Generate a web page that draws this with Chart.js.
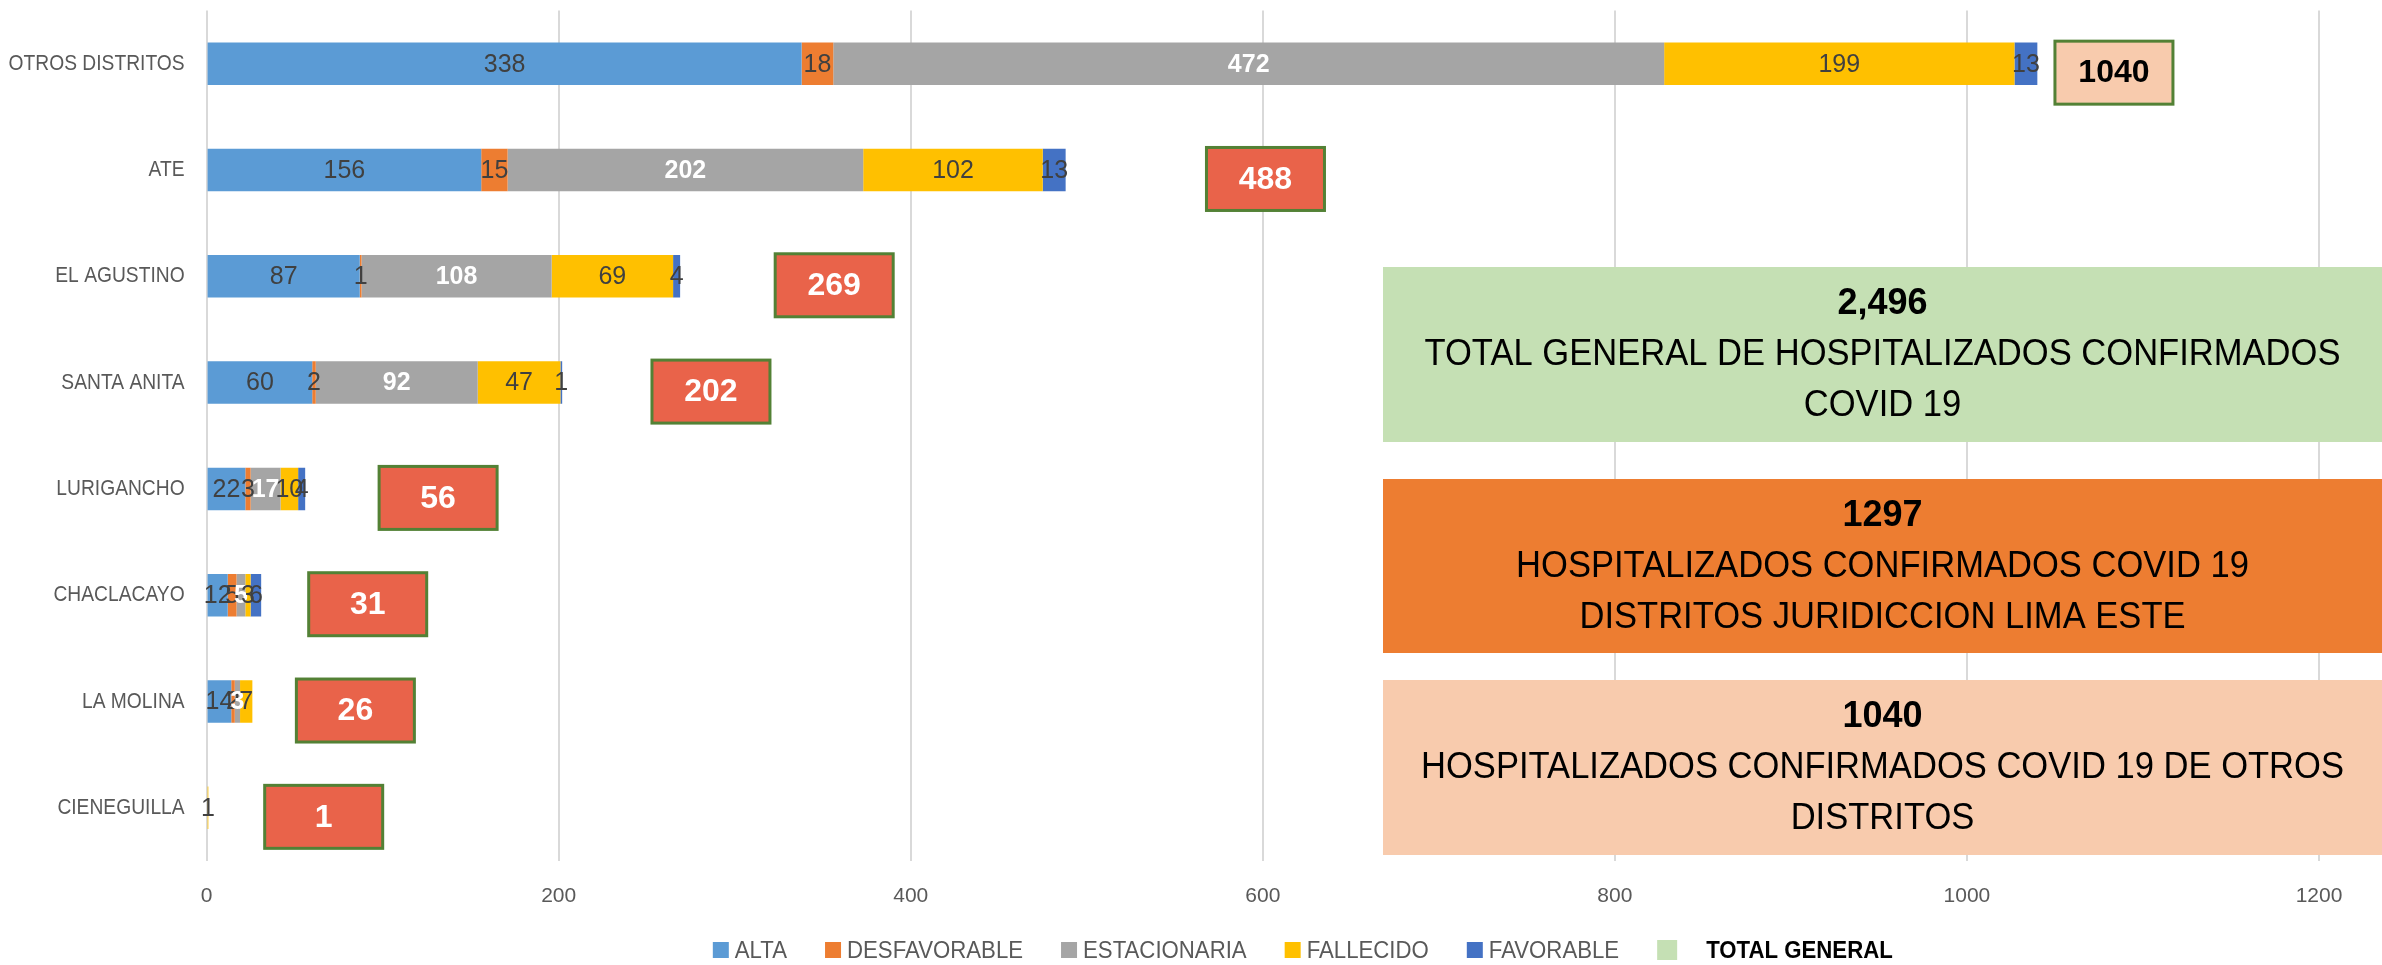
<!DOCTYPE html>
<html>
<head>
<meta charset="utf-8">
<script src="https://cdn.jsdelivr.net/npm/chart.js@4/dist/chart.umd.min.js"></script>
<style>
  html, body { margin: 0; padding: 0; background: #fff; }
  #wrap { width: 2382px; height: 965px; }
</style>
</head>
<body>
<div id="wrap"><canvas id="chart" width="2382" height="965"></canvas></div>
<script>
// Hospitalizados COVID 19 por distrito y estado
const districts = ['OTROS DISTRITOS', 'ATE', 'EL AGUSTINO', 'SANTA ANITA', 'LURIGANCHO', 'CHACLACAYO', 'LA MOLINA', 'CIENEGUILLA'];
const alta =         [338, 156, 87, 60, 22, 12, 14, 0];
const desfavorable = [18, 15, 1, 2, 3, 5, 2, 0];
const estacionaria = [472, 202, 108, 92, 17, 5, 3, 0];
const fallecido =    [199, 102, 69, 47, 10, 3, 7, 1];
const favorable =    [13, 13, 4, 1, 4, 6, 0, 0];
const totalGeneral = [1040, 488, 269, 202, 56, 31, 26, 1];
const xTicks = [0, 200, 400, 600, 800, 1000, 1200];

// where each total label box starts, in axis units (moved by hand in the original)
const totalBoxAt = [1050, 568, 323, 253, 98, 58, 51, 33];

const FONT = "'Liberation Sans', Arial, sans-serif";

const summaryBoxes = [
  { top: 267, bottom: 442, fill: '#C5E0B4', lines: ['2,496', 'TOTAL GENERAL DE HOSPITALIZADOS CONFIRMADOS', 'COVID 19'] },
  { top: 479, bottom: 653, fill: '#ED7D31', lines: ['1297', 'HOSPITALIZADOS CONFIRMADOS COVID 19', 'DISTRITOS JURIDICCION LIMA ESTE'] },
  { top: 680, bottom: 855, fill: '#F8CBAD', lines: ['1040', 'HOSPITALIZADOS CONFIRMADOS COVID 19 DE OTROS', 'DISTRITOS'] }
];

// the original uses Calibri; squeeze the wider Liberation Sans to the same widths
const measureCtx = document.createElement('canvas').getContext('2d');
function fitScale(text, font, target) {
  measureCtx.font = font;
  return target / measureCtx.measureText(text).width;
}
const catScale = fitScale('OTROS DISTRITOS', '22px ' + FONT, 176);
const legendScale = fitScale('DESFAVORABLE', '24px ' + FONT, 176);
const boxScale = fitScale('TOTAL GENERAL DE HOSPITALIZADOS CONFIRMADOS', '36px ' + FONT, 916);

function squeezedText(ctx, text, x, y, sx) {
  ctx.save();
  ctx.translate(x, y);
  ctx.scale(sx, 1);
  ctx.fillText(text, 0, 0);
  ctx.restore();
}

/**
 * Narrow the category labels around their right edge
 */
const narrowCategories = {
  id: 'narrowCategories',
  beforeDraw(chart) {
    const s = chart.scales.y;
    if (s._narrowed) return;
    const orig = s.drawLabels;
    // the label clip box would be squeezed too, so drop it
    s._computeLabelArea = () => undefined;
    s.drawLabels = function (area) {
      const c = this.ctx;
      const ax = this.right - this.options.ticks.padding;
      c.save();
      c.translate(ax, 0);
      c.scale(catScale, 1);
      c.translate(-ax, 0);
      orig.call(this, area);
      c.restore();
    };
    s._narrowed = true;
  }
};

/**
 * Value labels centred in each bar segment
 */
const barLabels = {
  id: 'barLabels',
  afterDatasetsDraw(chart) {
    const ctx = chart.ctx;
    ctx.save();
    ctx.textAlign = 'center';
    ctx.textBaseline = 'middle';
    chart.data.datasets.forEach((ds, di) => {
      if (ds.isTotal) return;
      const meta = chart.getDatasetMeta(di);
      meta.data.forEach((bar, i) => {
        const v = ds.data[i];
        if (!v) return;
        ctx.font = (ds.labelBold ? 'bold ' : '') + '25px ' + FONT;
        ctx.fillStyle = ds.labelColor;
        ctx.fillText(String(v), (bar.x + bar.base) / 2, bar.y + 1);
      });
    });
    ctx.restore();
  }
};

/**
 * Boxed totals next to the bars, then the three summary panels on top
 */
const boxes = {
  id: 'boxes',
  afterDraw(chart) {
    const ctx = chart.ctx;
    const xs = chart.scales.x;
    const ys = chart.scales.y;
    ctx.save();
    ctx.textAlign = 'center';
    ctx.textBaseline = 'middle';

    totalGeneral.forEach((t, i) => {
      const w = 118, h = 63;
      const left = xs.getPixelForValue(totalBoxAt[i]);
      const cy = ys.getPixelForValue(i) + 9;
      ctx.fillStyle = i === 0 ? '#F8CBAD' : '#E9634A';
      ctx.fillRect(left, cy - h / 2, w, h);
      ctx.strokeStyle = '#538135';
      ctx.lineWidth = 3;
      ctx.strokeRect(left, cy - h / 2, w, h);
      ctx.fillStyle = i === 0 ? '#000000' : '#FFFFFF';
      ctx.font = 'bold 32px ' + FONT;
      ctx.fillText(String(t), left + w / 2, cy + 1);
    });

    const left = 1383, right = chart.width;
    summaryBoxes.forEach(b => {
      ctx.fillStyle = b.fill;
      ctx.fillRect(left, b.top, right - left, b.bottom - b.top);
      const cy = (b.top + b.bottom) / 2 + 1;
      ctx.fillStyle = '#000000';
      b.lines.forEach((line, k) => {
        const y = cy + (k - 1) * 51;
        if (k === 0) {
          ctx.font = 'bold 36px ' + FONT;
          ctx.fillText(line, (left + right) / 2, y);
        } else {
          ctx.font = '36px ' + FONT;
          squeezedText(ctx, line, (left + right) / 2, y, boxScale);
        }
      });
    });
    ctx.restore();
  }
};

/**
 * Legend drawn by hand so the last entry can be bold
 */
const legendRow = {
  id: 'legendRow',
  afterDraw(chart) {
    const ctx = chart.ctx;
    const y = 950;
    const items = chart.data.datasets.map(ds => ({
      text: ds.label,
      color: ds.legendColor || ds.backgroundColor,
      bold: !!ds.isTotal,
      box: ds.isTotal ? 20 : 16,
      gap: ds.isTotal ? 29 : 6
    }));
    ctx.save();
    ctx.textBaseline = 'middle';
    ctx.textAlign = 'left';
    let total = 0;
    items.forEach((it, k) => {
      ctx.font = (it.bold ? 'bold ' : '') + '24px ' + FONT;
      it.w = ctx.measureText(it.text).width * legendScale;
      total += it.box + it.gap + it.w + (k < items.length - 1 ? 38 : 0);
    });
    const area = chart.chartArea;
    let x = (area.left + area.right) / 2 + 40 - total / 2;
    items.forEach(it => {
      ctx.fillStyle = it.color;
      ctx.fillRect(x, y - it.box / 2, it.box, it.box);
      x += it.box + it.gap;
      ctx.font = (it.bold ? 'bold ' : '') + '24px ' + FONT;
      ctx.fillStyle = it.bold ? '#000000' : '#595959';
      squeezedText(ctx, it.text, x, y + 1, legendScale);
      x += it.w + 38;
    });
    ctx.restore();
  }
};

Chart.defaults.font.family = FONT;

const ctx = document.getElementById('chart').getContext('2d');
new Chart(ctx, {
  type: 'bar',
  data: {
    labels: districts,
    datasets: [
      { label: 'ALTA', data: alta, backgroundColor: '#5B9BD5', labelColor: '#404040' },
      { label: 'DESFAVORABLE', data: desfavorable, backgroundColor: '#ED7D31', labelColor: '#404040' },
      { label: 'ESTACIONARIA', data: estacionaria, backgroundColor: '#A5A5A5', labelColor: '#FFFFFF', labelBold: true },
      { label: 'FALLECIDO', data: fallecido, backgroundColor: '#FFC000', labelColor: '#404040' },
      { label: 'FAVORABLE', data: favorable, backgroundColor: '#4472C4', labelColor: '#404040' },
      // no fill, like the Excel series; only its labels show
      { label: 'TOTAL GENERAL', data: totalGeneral, backgroundColor: 'rgba(0,0,0,0)', legendColor: '#C5E0B4', isTotal: true }
    ]
  },
  options: {
    indexAxis: 'y',
    responsive: false,
    animation: false,
    devicePixelRatio: 1,
    layout: { padding: { top: 10.5, right: 63, left: 0, bottom: 0 } },
    datasets: {
      bar: { categoryPercentage: 1, barPercentage: 0.4, borderWidth: 0 }
    },
    plugins: {
      legend: { display: false },
      tooltip: { enabled: false }
    },
    scales: {
      x: {
        stacked: true,
        min: 0,
        max: 1200,
        afterBuildTicks: scale => { scale.ticks = xTicks.map(v => ({ value: v })); },
        afterFit: scale => {
          scale.height = 104;
          scale.paddingLeft = 0;
          scale.paddingRight = 0;
        },
        grid: { color: '#D9D9D9', lineWidth: 2, drawTicks: false },
        border: { display: false },
        ticks: { color: '#595959', font: { size: 21 }, padding: 23, callback: v => String(v) }
      },
      y: {
        stacked: true,
        afterFit: scale => {
          scale.width = 206.6;
          scale.paddingTop = 0;
          scale.paddingBottom = 0;
        },
        grid: { display: false },
        border: { display: false },
        ticks: { color: '#595959', font: { size: 22 }, padding: 15, autoSkip: false }
      }
    }
  },
  plugins: [narrowCategories, barLabels, boxes, legendRow]
});
</script>
</body>
</html>
